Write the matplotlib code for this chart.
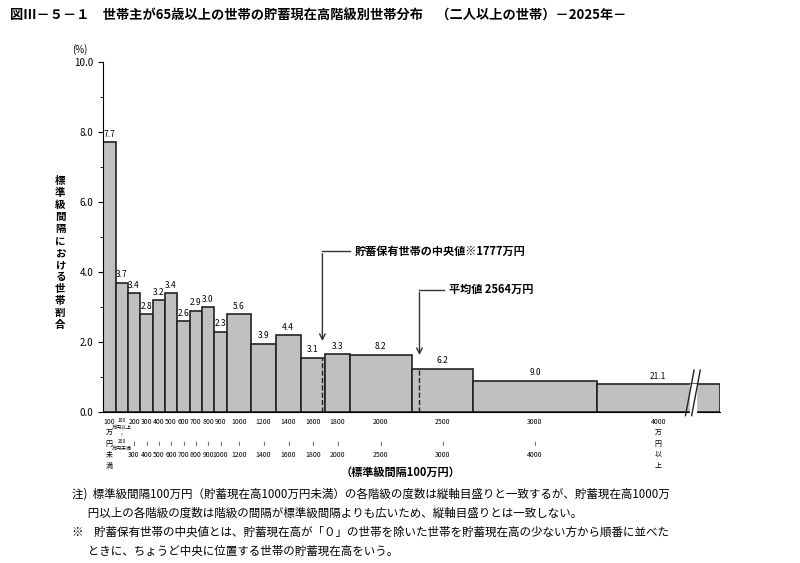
import numpy as np
import matplotlib.pyplot as plt

plt.rcParams['font.family'] = ['Noto Sans CJK JP', 'DejaVu Sans']

# 階級の下限・上限（100万円単位）と世帯割合(%)
lower = [0, 1, 2, 3, 4, 5, 6, 7, 8, 9, 10, 12, 14, 16, 18, 20, 25, 30, 40]
upper = [1, 2, 3, 4, 5, 6, 7, 8, 9, 10, 12, 14, 16, 18, 20, 25, 30, 40, 50]
pct = [7.7, 3.7, 3.4, 2.8, 3.2, 3.4, 2.6, 2.9, 3.0, 2.3, 5.6, 3.9, 4.4, 3.1, 3.3, 8.2, 6.2, 9.0, 21.1]
last_height = 0.8  # 4000万円以上は省略表示
tick_labels = ['100\n万\n円\n未\n満', '100\n万円以上\n≀\n200\n万円未満', '200\n\n≀\n300',
               '300\n\n≀\n400', '400\n\n≀\n500', '500\n\n≀\n600', '600\n\n≀\n700', '700\n\n≀\n800',
               '800\n\n≀\n900', '900\n\n≀\n1000', '1000\n\n≀\n1200', '1200\n\n≀\n1400', '1400\n\n≀\n1600',
               '1600\n\n≀\n1800', '1800\n\n≀\n2000', '2000\n\n≀\n2500', '2500\n\n≀\n3000',
               '3000\n\n≀\n4000', '4000\n万\n円\n以\n上']
median = 17.77
mean = 25.64

lower = np.array(lower, float)
upper = np.array(upper, float)
width = upper - lower
height = np.array(pct) / width
height[-1] = last_height

fig = plt.figure(figsize=(8, 5.63), dpi=100)
ax = fig.add_axes([0.129, 0.268, 0.771, 0.622])
ax.bar(lower, height, width=width, align='edge', color='#c0c0c0', edgecolor='#222222', lw=1.2)
for x, w, h, p in zip(lower, width, height, pct):
    ax.text(x + w / 2, h + 0.1, f'{p:.1f}', ha='center', va='bottom', fontsize=6)

for v in (median, mean):
    i = np.searchsorted(upper, v, side='right')
    ax.plot([v, v], [0, height[i]], ls='--', color='#222222', lw=1)

# 注記と矢印
ax.annotate('', xy=(median, 1.95), xytext=(median, 4.6),
            arrowprops=dict(arrowstyle='->', color='#333333', lw=1))
ax.plot([median, median + 2.2], [4.6, 4.6], color='#333333', lw=1)
ax.text(median + 2.6, 4.6, '貯蓄保有世帯の中央値※1777万円', va='center', fontsize=8, fontweight='bold')
ax.annotate('', xy=(mean, 1.55), xytext=(mean, 3.5),
            arrowprops=dict(arrowstyle='->', color='#333333', lw=1))
ax.plot([mean, mean + 2.0], [3.5, 3.5], color='#333333', lw=1)
ax.text(mean + 2.4, 3.5, '平均値 2564万円', va='center', fontsize=8, fontweight='bold')

# 省略記号
ax.fill_between([47.55, 48.05], [0.01, 0.01], [0.795, 0.795], color='white', zorder=3)
for dx in (0, 0.5):
    ax.plot([47.2 + dx, 47.9 + dx], [-0.1, 1.2], color='#222222', lw=1, clip_on=False, zorder=4)

ax.set_xlim(0, 50)
ax.set_ylim(0, 10)
ax.set_yticks(np.arange(0, 10.1, 2))
ax.set_yticklabels([f'{v:.1f}' for v in np.arange(0, 10.1, 2)], fontsize=7)
ax.set_yticks(np.arange(0, 10.1, 1), minor=True)
ax.set_xticks(lower + width / 2)
ax.set_xticklabels(tick_labels, fontsize=5, linespacing=1.5, va='top')
ax.get_xticklabels()[1].set_fontsize(3.6)
ax.tick_params(axis='x', length=0, pad=4)
for s in ('top', 'right'):
    ax.spines[s].set_visible(False)

ax.text(-2.5, 10.25, '(%)', fontsize=7)
fig.text(0.075, 0.55, '\n'.join('標準級間隔における世帯割合'), ha='center', va='center',
         fontsize=7.5, fontweight='bold', linespacing=1.25)
fig.text(0.5, 0.155, '（標準級間隔100万円）', ha='center', fontsize=8, fontweight='bold')
fig.text(0.012, 0.965, '図Ⅲ－５－１　世帯主が65歳以上の世帯の貯蓄現在高階級別世帯分布　（二人以上の世帯）－2025年－',
         fontsize=9.5, fontweight='bold')
notes = ('注)  標準級間隔100万円（貯蓄現在高1000万円未満）の各階級の度数は縦軸目盛りと一致するが、貯蓄現在高1000万\n'
         '      円以上の各階級の度数は階級の間隔が標準級間隔よりも広いため、縦軸目盛りとは一致しない。\n'
         '※    貯蓄保有世帯の中央値とは、貯蓄現在高が「０」の世帯を除いた世帯を貯蓄現在高の少ない方から順番に並べた\n'
         '      ときに、ちょうど中央に位置する世帯の貯蓄現在高をいう。')
fig.text(0.09, 0.015, notes, fontsize=8.3, linespacing=1.6)

fig.savefig('out.png', dpi=100)
